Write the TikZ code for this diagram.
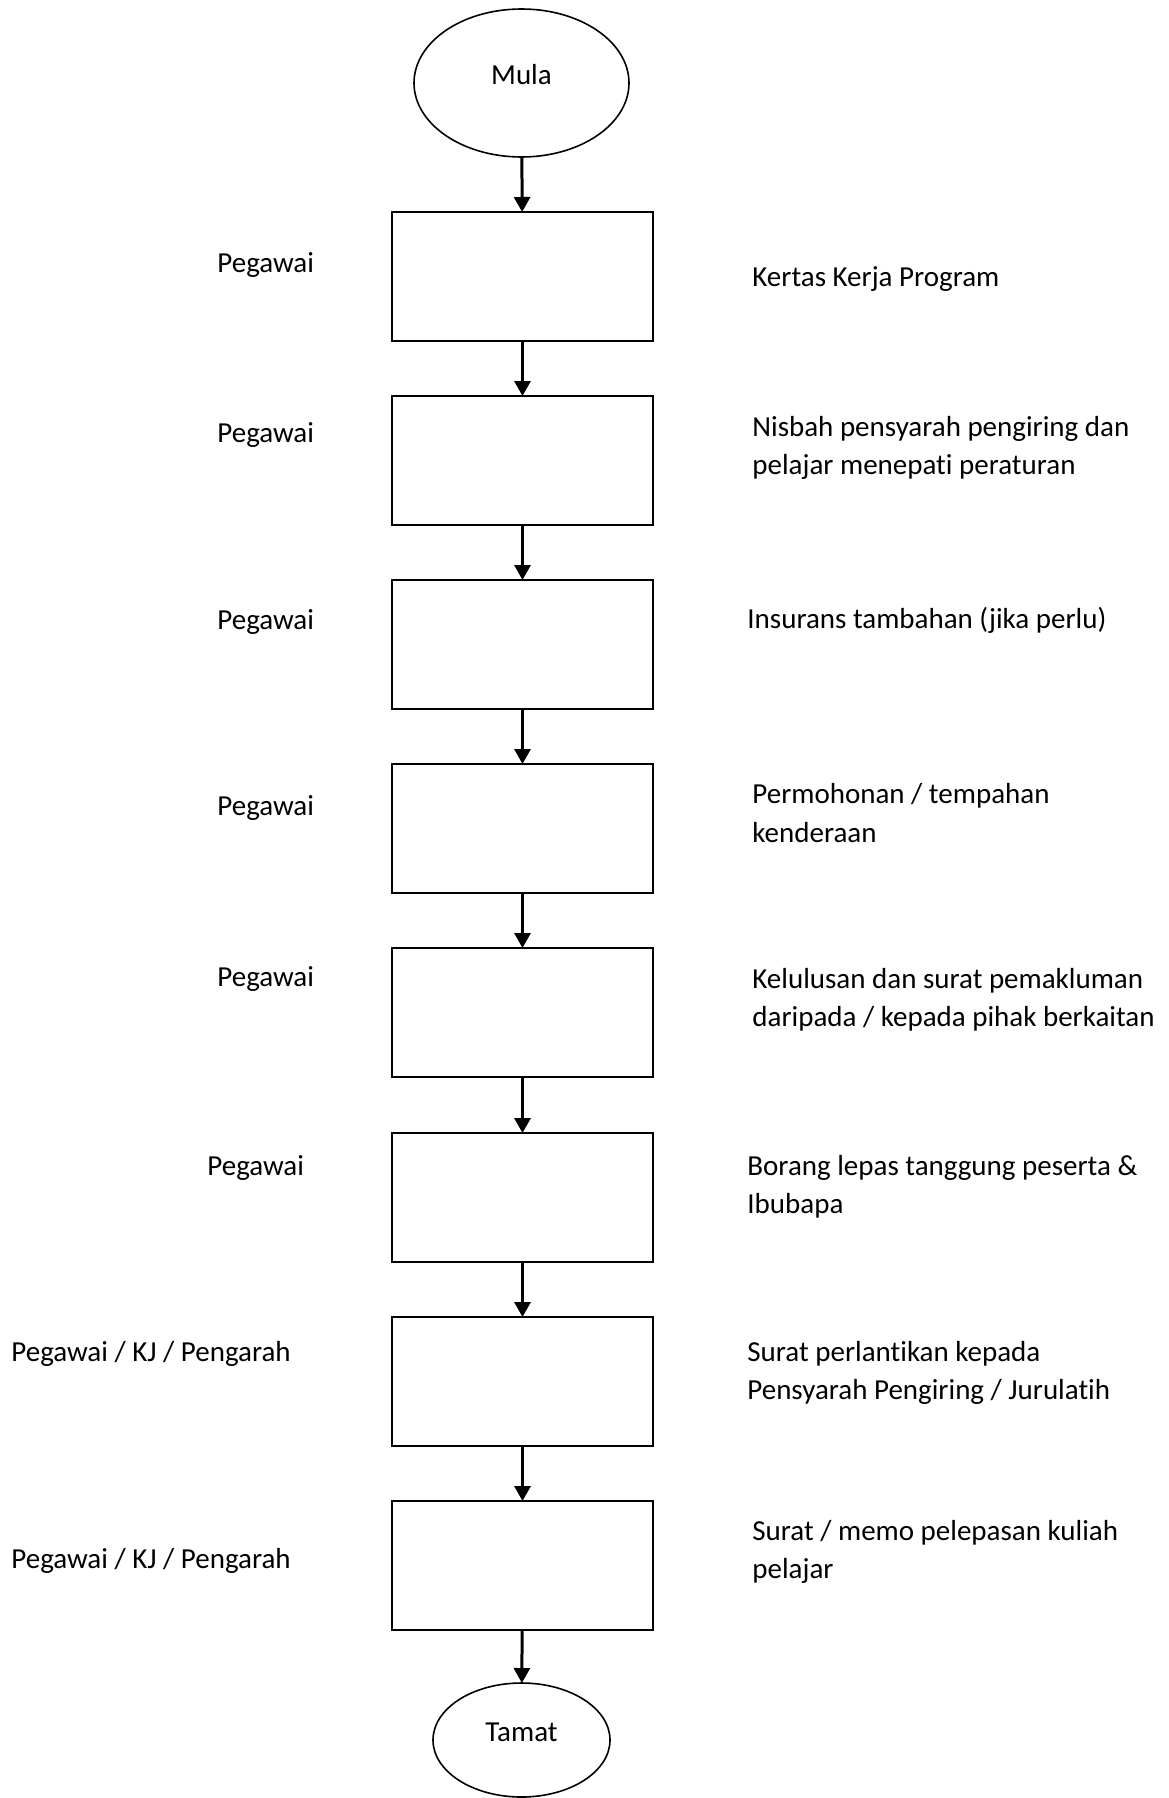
\documentclass[tikz,border=0pt]{standalone}
\usepackage{fontspec}
\setmainfont{Carlito}[Ligatures={NoCommon,NoRare,NoContextual},Contextuals=NoAlternate]
\usetikzlibrary{shapes.geometric,arrows.meta}
\begin{document}
\begin{tikzpicture}[x=0.5pt,y=-0.5pt,
  every node/.style={font=\fontsize{14.5pt}{19.25pt}\selectfont},
  stepbox/.style={draw,line width=1pt,rectangle,minimum width=130.5pt,minimum height=64.5pt,inner sep=0pt,outer sep=0pt},
  term/.style={draw,line width=0.8pt,ellipse,inner sep=0pt,outer sep=0pt},
  who/.style={anchor=west,inner sep=0pt},
  what/.style={anchor=west,inner sep=0pt,align=left},
  flow/.style={line width=1.5pt,-{Triangle[width=8pt,length=7.5pt]}}
]
\useasboundingbox (0,0) rectangle (1168,1798);
\node[term,minimum width=107.5pt,minimum height=74pt] (start) at (521.5,83) {\raisebox{9pt}{Mula}};
\node[stepbox] (s1) at (522.5,276.5) {};
\node[stepbox] (s2) at (522.5,460.5) {};
\node[stepbox] (s3) at (522.5,644.5) {};
\node[stepbox] (s4) at (522.5,828.5) {};
\node[stepbox] (s5) at (522.5,1012.5) {};
\node[stepbox] (s6) at (522.5,1197.5) {};
\node[stepbox] (s7) at (522.5,1381.5) {};
\node[stepbox] (s8) at (522.5,1565.5) {};
\node[term,minimum width=88.5pt,minimum height=57pt] (end) at (521.5,1740) {\raisebox{7.5pt}{Tamat}};
\draw[flow] (start) -- (s1);
\draw[flow] (s1) -- (s2);
\draw[flow] (s2) -- (s3);
\draw[flow] (s3) -- (s4);
\draw[flow] (s4) -- (s5);
\draw[flow] (s5) -- (s6);
\draw[flow] (s6) -- (s7);
\draw[flow] (s7) -- (s8);
\draw[flow] (s8) -- (end);
\node[who] (w1) at (217,265) {Pegawai};
\node[who] (w2) at (217,435) {Pegawai};
\node[who] (w3) at (217,622) {Pegawai};
\node[who] (w4) at (217,808) {Pegawai};
\node[who] (w5) at (217,979) {Pegawai};
\node[who] (w6) at (207,1168) {Pegawai};
\node[who] (w7) at (11,1354) {Pegawai / KJ / Pengarah};
\node[who] (w8) at (11,1561) {Pegawai / KJ / Pengarah};
\node[what] (d1) at (752,279) {Kertas Kerja Program};
\node[what] (d2) at (752,448) {Nisbah pensyarah pengiring dan\\pelajar menepati peraturan};
\node[what] (d3) at (747,620) {Insurans tambahan (jika perlu)};
\node[what] (d4) at (752,813) {Permohonan / tempahan\\kenderaan};
\node[what] (d5) at (752,1000) {Kelulusan dan surat pemakluman\\daripada / kepada pihak berkaitan};
\node[what] (d6) at (747,1187) {Borang lepas tanggung peserta \&\\Ibubapa};
\node[what] (d7) at (747,1373) {Surat perlantikan kepada\\Pensyarah Pengiring / Jurulatih};
\node[what] (d8) at (752,1552) {Surat / memo pelepasan kuliah\\pelajar};
\end{tikzpicture}
\end{document}
